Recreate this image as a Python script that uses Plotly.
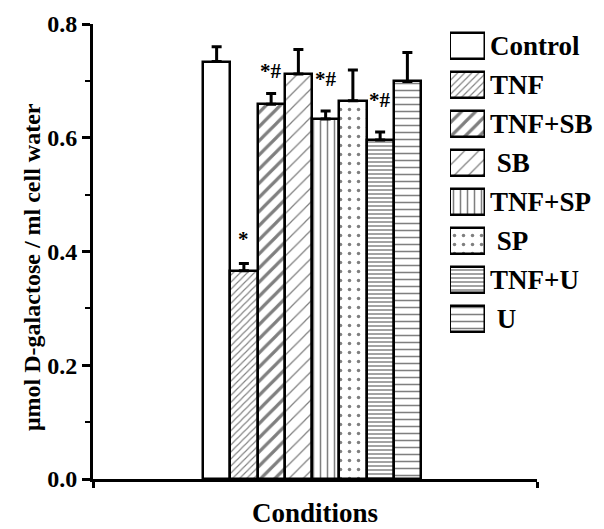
import plotly.graph_objects as go

# ---- data ----
conditions = ["Control", "TNF", "TNF+SB", "SB", "TNF+SP", "SP", "TNF+U", "U"]
means = [0.734, 0.366, 0.659, 0.712, 0.633, 0.665, 0.596, 0.699]
sems = [0.026, 0.013, 0.019, 0.043, 0.014, 0.054, 0.014, 0.051]
legend_labels = ["Control", "TNF", "TNF+SB", "\u00a0SB", "TNF+SP", "\u00a0SP", "TNF+U", "\u00a0U"]
sig_labels = ["", "*", "*#", "", "*#", "", "*#", ""]

# ---- styles ----
pat_shape = ["", "/", "/", "/", "|", ".", "-", "-"]
pat_size = [8, 5, 10, 10, 7, 9, 4, 7]
pat_solid = [0.2, 0.22, 0.32, 0.12, 0.22, 0.12, 0.45, 0.22]
pat_fg = ["black", "black", "black", "black", "black", "black", "#333333", "black"]
sig_shift = [0, 22, 20, 0, 30, 0, 30, 0]

FONT = "Liberation Serif"
W, H = 604, 529
ML, MR, MT, MB = 93, 67, 24, 50
bar_px = 27.25
x_pos = list(range(1, len(conditions) + 1))
x_range = [0.5 - 110 / bar_px, len(conditions) + 0.5 + 116 / bar_px]

fig = go.Figure()

fig.add_trace(go.Bar(
    x=x_pos, y=means, width=1.0,
    marker=dict(
        color="white",
        line=dict(color="black", width=2.5),
        pattern=dict(shape=pat_shape, size=pat_size, solidity=pat_solid,
                     fgcolor=pat_fg, bgcolor="white", fillmode="overlay"),
    ),
    error_y=dict(type="data", symmetric=False, array=sems,
                 arrayminus=[0] * len(sems), color="black", thickness=3, width=5),
    showlegend=False, xaxis="x", yaxis="y",
))

# legend boxes drawn as a small horizontal-bar subplot
row_px = 39.0
first_px = 46.0
plot_h = H - MT - MB
y2_top = (MT - first_px) / row_px
y2_bot = (H - MB - first_px) / row_px
fig.add_trace(go.Bar(
    y=list(range(len(conditions))), x=[1] * len(conditions), base=0,
    orientation="h", width=26 / row_px,
    marker=dict(
        color="white",
        line=dict(color="black", width=2.5),
        pattern=dict(shape=pat_shape, size=pat_size, solidity=pat_solid,
                     fgcolor=pat_fg, bgcolor="white", fillmode="overlay"),
    ),
    showlegend=False, xaxis="x2", yaxis="y2", hoverinfo="skip",
))

plot_w = W - ML - MR
x2_dom = [(450 - ML) / plot_w, (485 - ML) / plot_w]

annotations = []
for i, lab in enumerate(sig_labels):
    if lab:
        annotations.append(dict(
            x=x_pos[i], y=means[i] + sems[i], xref="x", yref="y",
            text=lab, showarrow=False, yanchor="bottom", yshift=sig_shift[i] - 12,
            font=dict(family=FONT, size=21, color="black", weight="bold"),
        ))

annotations.append(dict(
    x=(32 - ML) / plot_w, y=(H - MB - 267) / plot_h, xref="paper", yref="paper",
    text="μmol D-galactose / ml cell water", textangle=-90, showarrow=False,
    font=dict(family=FONT, size=24, color="black", weight="bold"),
    xanchor="center", yanchor="middle",
))
annotations.append(dict(
    x=0.5, y=(H - MB - 513) / plot_h, xref="paper", yref="paper",
    text="Conditions", showarrow=False,
    font=dict(family=FONT, size=27, color="black", weight="bold"),
    xanchor="center", yanchor="middle",
))

fig.update_layout(
    width=W, height=H,
    margin=dict(l=ML, r=MR, t=MT, b=MB, pad=0),
    paper_bgcolor="white", plot_bgcolor="rgba(0,0,0,0)",
    showlegend=False, bargap=0,
    xaxis=dict(
        domain=[0, 1], range=x_range, showline=True, linecolor="black", linewidth=2.5,
        tickvals=x_range, ticktext=["", ""], ticks="outside", ticklen=6, tickwidth=2.5,
        tickcolor="black", showgrid=False, zeroline=False, anchor="y",
    ),
    yaxis=dict(
        domain=[0, 1], range=[0, 0.8], dtick=0.2, tickformat=".1f",
        showline=True, linecolor="black", linewidth=3,
        ticks="outside", ticklen=8, tickwidth=2.5, tickcolor="black",
        minor=dict(dtick=0.1, ticks="outside", ticklen=5, tickwidth=2, tickcolor="black"),
        tickfont=dict(family=FONT, size=24, color="black", weight="bold"),
        showgrid=False, zeroline=False, anchor="x",
    ),
    xaxis2=dict(domain=x2_dom, range=[0, 1], visible=False, anchor="y2", fixedrange=True),
    yaxis2=dict(
        domain=[0, 1], range=[y2_bot, y2_top], anchor="x2", side="right",
        tickvals=list(range(len(conditions))), ticktext=legend_labels,
        ticks="", showline=False, showgrid=False, zeroline=False,
        ticklabelstandoff=4,
        tickfont=dict(family=FONT, size=27, color="black", weight="bold"),
    ),
    annotations=annotations,
)

fig.write_html("out.html")
